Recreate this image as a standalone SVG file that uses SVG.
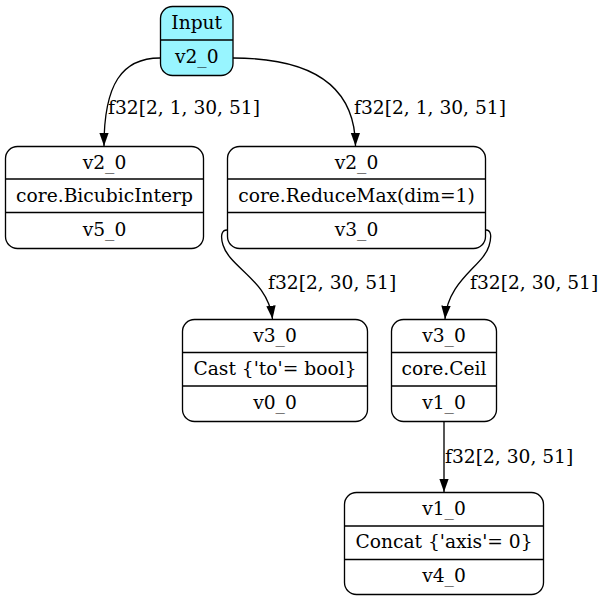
<svg xmlns="http://www.w3.org/2000/svg" width="604" height="601" viewBox="0 0 604 601">
<defs>
<style>
.box{fill:#ffffff;stroke:#000;stroke-width:1.33}
.in{fill:#98f5ff;stroke:#000;stroke-width:1.33}
.div{stroke:#000;stroke-width:1.33}
text{font-family:"DejaVu Serif",serif;font-size:18.67px;fill:#000}
.c{text-anchor:middle}
.e{fill:none;stroke:#000;stroke-width:1.33}
</style>
<marker id="ah" viewBox="0 0 13.3 10" refX="13.3" refY="5" markerWidth="13.3" markerHeight="10" markerUnits="userSpaceOnUse" orient="auto">
<path d="M0,0.3 L13.3,5 L0,9.7 Z" fill="#000"/>
</marker>
</defs>
<rect width="604" height="601" fill="#fff"/>
<g id="edges">
<path class="e" d="M160,58 C122,58 104,84 104,146" marker-end="url(#ah)"/>
<path class="e" d="M233,58 C310,58 355,84 355.5,146" marker-end="url(#ah)"/>
<path class="e" d="M227,230 C222,230 220,235 223,245 C230,268 268,280 272.5,319" marker-end="url(#ah)"/>
<path class="e" d="M486,230 C491,230 492,236 489,246 C483,266 448,280 445,319" marker-end="url(#ah)"/>
<path class="e" d="M444,421 L444,492" marker-end="url(#ah)"/>
<text x="108" y="114">f32[2, 1, 30, 51]</text>
<text x="354" y="114">f32[2, 1, 30, 51]</text>
<text x="268" y="289">f32[2, 30, 51]</text>
<text x="470" y="289">f32[2, 30, 51]</text>
<text x="445" y="463">f32[2, 30, 51]</text>
</g>
<g id="input">
<rect class="in" x="160.5" y="6.5" width="72.5" height="69" rx="12"/>
<line class="div" x1="160.5" y1="40" x2="233" y2="40"/>
<text class="c" x="196.7" y="29">Input</text>
<text class="c" x="196.7" y="63.3">v2_0</text>
</g>
<g id="bicubic">
<rect class="box" x="5.5" y="146.5" width="198" height="102" rx="12"/>
<line class="div" x1="5.5" y1="179" x2="203.5" y2="179"/>
<line class="div" x1="5.5" y1="212.5" x2="203.5" y2="212.5"/>
<text class="c" x="104.5" y="169.3">v2_0</text>
<text class="c" x="104.5" y="201.7">core.BicubicInterp</text>
<text class="c" x="104.5" y="236">v5_0</text>
</g>
<g id="reducemax">
<rect class="box" x="227.5" y="146.5" width="258" height="102" rx="12"/>
<line class="div" x1="227.5" y1="179" x2="485.5" y2="179"/>
<line class="div" x1="227.5" y1="212.5" x2="485.5" y2="212.5"/>
<text class="c" x="356.5" y="169.3">v2_0</text>
<text class="c" x="356.5" y="201.7">core.ReduceMax(dim=1)</text>
<text class="c" x="356.5" y="236">v3_0</text>
</g>
<g id="cast">
<rect class="box" x="182.5" y="319.5" width="185" height="102" rx="12"/>
<line class="div" x1="182.5" y1="352.5" x2="367.5" y2="352.5"/>
<line class="div" x1="182.5" y1="386" x2="367.5" y2="386"/>
<text class="c" x="275" y="342.3">v3_0</text>
<text class="c" x="275" y="374.7">Cast {'to'= bool}</text>
<text class="c" x="275" y="409">v0_0</text>
</g>
<g id="ceil">
<rect class="box" x="391.5" y="319.5" width="105" height="102" rx="12"/>
<line class="div" x1="391.5" y1="352.5" x2="496.5" y2="352.5"/>
<line class="div" x1="391.5" y1="386" x2="496.5" y2="386"/>
<text class="c" x="444" y="342.3">v3_0</text>
<text class="c" x="444" y="374.7">core.Ceil</text>
<text class="c" x="444" y="409">v1_0</text>
</g>
<g id="concat">
<rect class="box" x="344.5" y="492.5" width="199" height="102" rx="12"/>
<line class="div" x1="344.5" y1="526" x2="543.5" y2="526"/>
<line class="div" x1="344.5" y1="559.5" x2="543.5" y2="559.5"/>
<text class="c" x="444" y="515.3">v1_0</text>
<text class="c" x="444" y="547.7">Concat {'axis'= 0}</text>
<text class="c" x="444" y="582">v4_0</text>
</g>
</svg>
